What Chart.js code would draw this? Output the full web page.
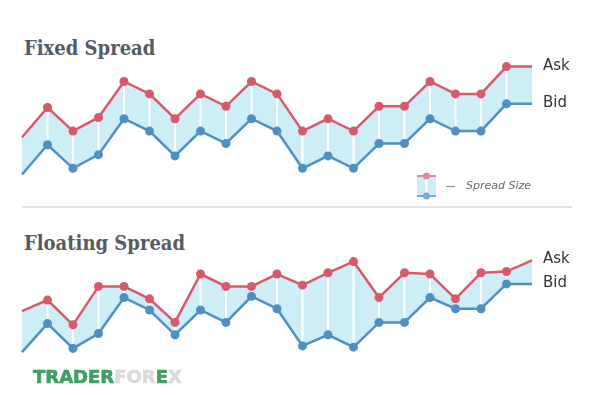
<!DOCTYPE html>
<html>
<head>
<meta charset="utf-8">
<script src="https://cdn.jsdelivr.net/npm/chart.js@4"></script>
<style>
    html, body { margin: 0; padding: 0; background: #fff; }
    body { width: 600px; height: 395px; position: relative; overflow: hidden; }
    .chartBox { position: absolute; left: 0; width: 600px; height: 200px; }
    .title { position: absolute; left: 24px; font-family: 'DejaVu Serif Condensed', 'DejaVu Serif', serif; font-weight: bold; font-size: 20px; line-height: 20px; color: #565b63; }
    .sep { position: absolute; left: 22px; top: 206px; width: 550px; height: 2px; background: #e3e3e3; }
    .legendText { position: absolute; left: 466px; top: 179px; font-family: 'DejaVu Sans', sans-serif; font-style: italic; font-size: 11px; color: #666; }
    .legendDash { position: absolute; left: 446px; top: 186px; width: 9px; height: 1px; background: #888; }
    .brand { position: absolute; left: 33px; top: 367px; font-family: 'DejaVu Sans', sans-serif; font-weight: bold; font-size: 18px; line-height: 20px; -webkit-text-stroke: 0.7px; }
    .brand .g { color: #3e9f63; }
    .brand .l { color: #dadada; }
</style>
</head>
<body>
<div class="title" style="top: 38px;">Fixed Spread</div>
<div class="chartBox" style="top: 0;"><canvas id="fixedChart" width="600" height="200"></canvas></div>
<div class="legendDash"></div>
<div class="legendText">Spread Size</div>
<div class="sep"></div>
<div class="title" style="top: 233px;">Floating Spread</div>
<div class="chartBox" style="top: 195px;"><canvas id="floatChart" width="600" height="200"></canvas></div>
<div class="brand"><span class="g">TRADER</span><span class="l">FOR</span><span class="g">E</span><span class="l">X</span></div>

<script>
// ticks along the time axis (no labels shown)
const periods = ['1', '2', '3', '4', '5', '6', '7', '8', '9', '10', '11', '12', '13', '14', '15', '16', '17', '18', '19', '20', '21'];

// fixed spread: bid is always 30 below ask
const fixedAsk = [5, 29, 10, 21, 50, 40, 20, 40, 30, 50, 40, 10, 20, 10, 30, 30, 50, 40, 40, 62, 62];
const fixedBid = [-25, -1, -20, -9, 20, 10, -10, 10, 0, 20, 10, -20, -10, -20, 0, 0, 20, 10, 10, 32, 32];

// floating spread
const floatAsk = [22, 31, 11, 42, 42, 32, 13, 52, 42, 42, 52, 43, 53, 62, 33, 53, 52, 32, 53, 54, 63];
const floatBid = [-11, 12, -8, 4, 33, 23, 3, 23, 13, 34, 24, -6, 3, -7, 13, 13, 33, 24, 24, 44, 44];

const ASK_RED = '#d65a6b';
const BID_BLUE = '#4f8fc2';
const SPREAD_FILL = '#cdeef6';

// white vertical bars between ask and bid at every quote
const spreadLines = {
    id: 'spreadLines',
    beforeDatasetsDraw(chart) {
        const ctx = chart.ctx;
        const xs = chart.scales.x, ys = chart.scales.y;
        const ask = chart.data.datasets[0].data;
        const bid = chart.data.datasets[1].data;
        ctx.save();
        ctx.strokeStyle = '#ffffff';
        ctx.lineWidth = 2;
        for (let i = 1; i < ask.length - 1; i++) {
            const x = xs.getPixelForValue(i);
            ctx.beginPath();
            ctx.moveTo(x, ys.getPixelForValue(ask[i]));
            ctx.lineTo(x, ys.getPixelForValue(bid[i]));
            ctx.stroke();
        }
        ctx.restore();
    },
    afterDatasetsDraw(chart) {
        const ctx = chart.ctx;
        const ys = chart.scales.y;
        const x = chart.chartArea.right + 11;
        ctx.save();
        ctx.font = '15px "DejaVu Sans", sans-serif';
        ctx.fillStyle = '#333';
        ctx.textBaseline = 'middle';
        chart.data.datasets.forEach(ds => {
            const last = ds.data[ds.data.length - 1];
            ctx.fillText(ds.label, x, ys.getPixelForValue(last) - 1);
        });
        ctx.restore();
    }
};

// little icon for the "Spread Size" key (top chart only)
const spreadKey = {
    id: 'spreadKey',
    afterDraw(chart) {
        const ctx = chart.ctx;
        ctx.save();
        ctx.fillStyle = SPREAD_FILL;
        ctx.fillRect(417, 176, 19, 20);
        ctx.strokeStyle = '#fff';
        ctx.lineWidth = 2;
        ctx.beginPath(); ctx.moveTo(426.5, 176); ctx.lineTo(426.5, 196); ctx.stroke();
        ctx.lineWidth = 2;
        ctx.strokeStyle = '#e08a96';
        ctx.beginPath(); ctx.moveTo(417, 176); ctx.lineTo(436, 176); ctx.stroke();
        ctx.strokeStyle = '#7aaad2';
        ctx.beginPath(); ctx.moveTo(417, 196); ctx.lineTo(436, 196); ctx.stroke();
        ctx.fillStyle = '#e08a96';
        ctx.beginPath(); ctx.arc(426.5, 176, 3.5, 0, Math.PI * 2); ctx.fill();
        ctx.fillStyle = '#7aaad2';
        ctx.beginPath(); ctx.arc(426.5, 196, 3.5, 0, Math.PI * 2); ctx.fill();
        ctx.restore();
    }
};

function dotRadius(c) {
    const n = c.dataset.data.length;
    return (c.dataIndex === 0 || c.dataIndex === n - 1) ? 0 : 4.5;
}

function makeChart(id, ask, bid, extra) {
    return new Chart(document.getElementById(id), {
        type: 'line',
        data: {
            labels: periods,
            datasets: [{
                label: 'Ask',
                data: ask,
                borderColor: ASK_RED,
                backgroundColor: SPREAD_FILL,
                pointBackgroundColor: ASK_RED,
                fill: '+1',
                borderWidth: 2.5,
                pointRadius: dotRadius,
                pointBorderWidth: 0,
                tension: 0,
                clip: false
            }, {
                label: 'Bid',
                data: bid,
                borderColor: BID_BLUE,
                pointBackgroundColor: BID_BLUE,
                fill: false,
                borderWidth: 2.5,
                pointRadius: dotRadius,
                pointBorderWidth: 0,
                tension: 0,
                clip: false
            }]
        },
        options: {
            responsive: false,
            animation: false,
            devicePixelRatio: 1,
            layout: { padding: { left: 22, right: 68, top: 56.7, bottom: 13.1 } },
            scales: {
                x: { display: false, offset: false },
                y: { display: false, min: -35, max: 70 }
            },
            plugins: {
                legend: { display: false },
                tooltip: { enabled: false },
                filler: { drawTime: 'beforeDatasetsDraw' }
            }
        },
        plugins: extra ? [spreadLines, extra] : [spreadLines]
    });
}

makeChart('fixedChart', fixedAsk, fixedBid, spreadKey);
makeChart('floatChart', floatAsk, floatBid);
</script>
</body>
</html>
